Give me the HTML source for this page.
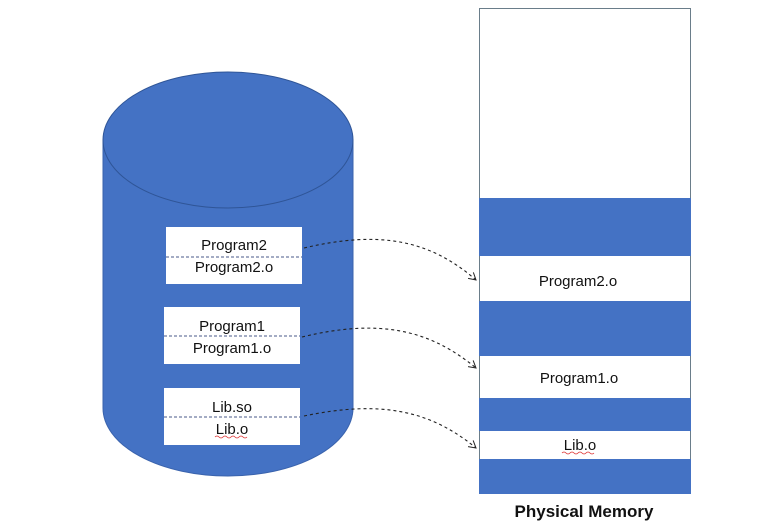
<!DOCTYPE html>
<html><head><meta charset="utf-8"><style>
html,body{margin:0;padding:0;background:#fff;}
svg{display:block;}
text{font-family:"Liberation Sans","Noto Sans CJK SC",sans-serif;font-size:15px;fill:#111;}
</style></head><body>
<svg width="773" height="525" viewBox="0 0 773 525" xmlns="http://www.w3.org/2000/svg">
<defs>
<marker id="ah" markerWidth="10" markerHeight="10" refX="8" refY="5" orient="auto" markerUnits="userSpaceOnUse">
<path d="M1,1 L8,5 L1,9" fill="none" stroke="#222" stroke-width="1"/>
</marker>
</defs>
<path d="M103,140 L103,408 A125,68 0 0 0 353,408 L353,140 Z" fill="#4472c4" stroke="#3a63ad" stroke-width="1"/>
<ellipse cx="228" cy="140" rx="125" ry="68" fill="#4472c4" stroke="#2f5597" stroke-width="1"/>
<rect x="166" y="227" width="136" height="57" fill="#fff"/>
<line x1="166" y1="257" x2="302" y2="257" stroke="#4a5a8a" stroke-width="1" stroke-dasharray="3,2"/>
<text x="234" y="250" text-anchor="middle">Program2</text>
<text x="234" y="272" text-anchor="middle">Program2.o</text>
<rect x="164" y="307" width="136" height="57" fill="#fff"/>
<line x1="164" y1="336" x2="300" y2="336" stroke="#4a5a8a" stroke-width="1" stroke-dasharray="3,2"/>
<text x="232" y="331" text-anchor="middle">Program1</text>
<text x="232" y="353" text-anchor="middle">Program1.o</text>
<rect x="164" y="388" width="136" height="57" fill="#fff"/>
<line x1="164" y1="417" x2="300" y2="417" stroke="#4a5a8a" stroke-width="1" stroke-dasharray="3,2"/>
<text x="232" y="412" text-anchor="middle">Lib.so</text>
<text x="232" y="434" text-anchor="middle">Lib.o</text>
<path d="M215,437 q2,-2 4,0 t4,0 t4,0 t4,0 t4,0 t4,0 t4,0 t4,0" fill="none" stroke="#d33" stroke-width="0.8"/>
<rect x="479.5" y="8.5" width="211" height="485" fill="#fff" stroke="#6a7d8a" stroke-width="1"/>
<rect x="479" y="198" width="212" height="58" fill="#4472c4"/>
<rect x="479" y="301" width="212" height="55" fill="#4472c4"/>
<rect x="479" y="398" width="212" height="33" fill="#4472c4"/>
<rect x="479" y="459" width="212" height="35" fill="#4472c4"/>
<text x="578" y="286" text-anchor="middle">Program2.o</text>
<text x="579" y="383" text-anchor="middle">Program1.o</text>
<text x="580" y="450" text-anchor="middle">Lib.o</text>
<path d="M562,453 q2,-2 4,0 t4,0 t4,0 t4,0 t4,0 t4,0 t4,0 t4,0" fill="none" stroke="#d33" stroke-width="0.8"/>
<path d="M304,248 C380,230 430,240 476,280" fill="none" stroke="#222" stroke-width="1.1" stroke-dasharray="3,3" marker-end="url(#ah)"/>
<path d="M302,337 C380,318 430,330 476,368" fill="none" stroke="#222" stroke-width="1.1" stroke-dasharray="3,3" marker-end="url(#ah)"/>
<path d="M304,416 C380,400 430,410 476,448" fill="none" stroke="#222" stroke-width="1.1" stroke-dasharray="3,3" marker-end="url(#ah)"/>
<text x="584" y="517" text-anchor="middle" style="font-weight:bold;font-size:17px">Physical Memory</text>
</svg>
</body></html>
